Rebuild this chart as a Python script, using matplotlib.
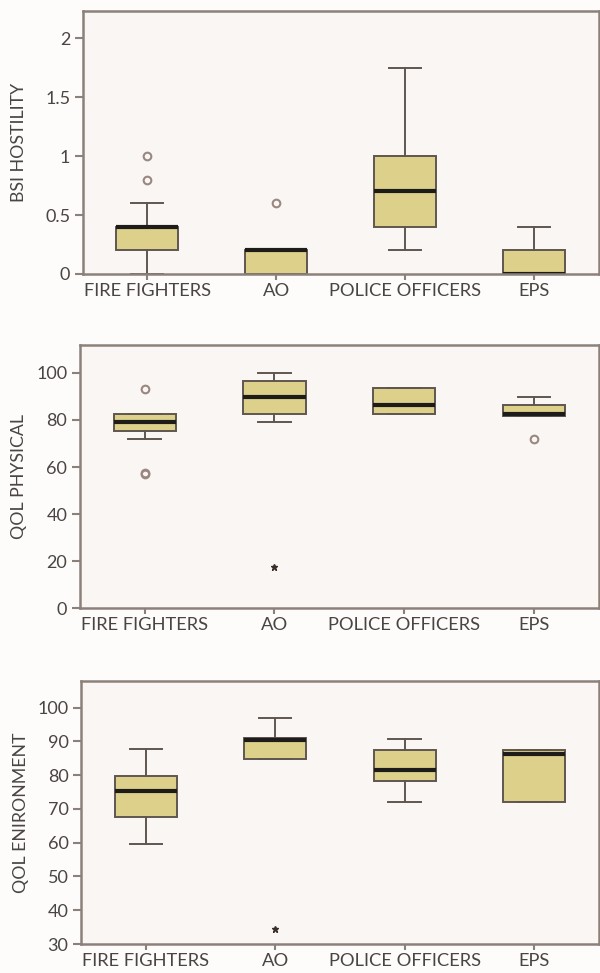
import matplotlib
matplotlib.use("Agg")
import matplotlib.pyplot as plt

groups = ["FIRE FIGHTERS", "AO", "POLICE OFFICERS", "EPS"]

# BSI hostility: quartiles, medians, whisker ends, outliers
hos_q1 = [0.2, 0.0, 0.4, 0.0]
hos_med = [0.4, 0.2, 0.7, 0.0]
hos_q3 = [0.4, 0.2, 1.0, 0.2]
hos_lo = [0.0, 0.0, 0.2, 0.0]
hos_hi = [0.6, 0.2, 1.75, 0.4]
hos_out = [[1.0, 0.8], [0.6], [], []]
hos_ext = [[], [], [], []]

# QOL physical
phy_q1 = [75.3, 82.3, 82.3, 81.8]
phy_med = [79.0, 89.6, 86.3, 82.4]
phy_q3 = [82.3, 96.6, 93.4, 86.2]
phy_lo = [71.9, 79.0, 82.3, 81.8]
phy_hi = [82.3, 100.0, 93.4, 89.6]
phy_out = [[93.2, 57.3, 57.0], [], [], [71.7]]
phy_ext = [[], [17.7], [], []]

# QOL environment
env_q1 = [67.7, 84.7, 78.4, 72.2]
env_med = [75.2, 90.5, 81.5, 86.2]
env_q3 = [79.9, 90.9, 87.5, 87.5]
env_lo = [59.5, 84.7, 72.2, 72.2]
env_hi = [87.7, 96.9, 90.6, 87.5]
env_out = [[], [], [], []]
env_ext = [[], [34.5], [], []]

FILL = "#ddd08a"
EDGE = "#5f5650"
SPINE = "#8c817a"
TEXT = "#4a4542"
AXBG = "#faf6f3"

plt.rcParams["font.family"] = ["Lato", "DejaVu Sans"]

fig = plt.figure(figsize=(6.0, 9.73), dpi=100, facecolor="#fdfcfb")


def panel(rect, q1, med, q3, lo, hi, outs, exts, ylim, yticks, yticklabels, ylabel, label_x):
    ax = fig.add_axes(rect, facecolor=AXBG)
    stats = []
    for i in range(len(groups)):
        stats.append(dict(q1=q1[i], med=med[i], q3=q3[i], whislo=lo[i], whishi=hi[i],
                          fliers=outs[i], label=groups[i]))
    ax.bxp(stats, positions=range(len(groups)), widths=0.48, patch_artist=True,
           showfliers=True,
           boxprops=dict(facecolor=FILL, edgecolor=EDGE, linewidth=1.4),
           medianprops=dict(color="#1e1c1a", linewidth=3.0),
           whiskerprops=dict(color=EDGE, linewidth=1.4),
           capprops=dict(color=EDGE, linewidth=1.4),
           capwidths=0.25,
           flierprops=dict(marker="o", markersize=5.5, markerfacecolor="none",
                           markeredgecolor="#9a8880", markeredgewidth=1.5))
    for i, vals in enumerate(exts):
        for v in vals:
            ax.plot([i], [v], marker="*", markersize=5, color="#3a2e2a", linestyle="none")
    ax.set_xlim(-0.5, 3.5)
    ax.set_ylim(*ylim)
    ax.set_yticks(yticks)
    ax.set_yticklabels(yticklabels)
    ax.set_xticks(range(len(groups)))
    ax.set_xticklabels(groups)
    for s in ax.spines.values():
        s.set_color(SPINE)
        s.set_linewidth(1.8)
    ax.tick_params(axis="y", direction="out", length=6, width=1.5, color=SPINE,
                   labelsize=13, labelcolor=TEXT, pad=3)
    ax.tick_params(axis="x", direction="out", length=4.5, width=1.5, color=SPINE,
                   labelsize=13.2, labelcolor=TEXT, pad=2)
    ax.set_ylabel(ylabel, fontsize=12.8, color=TEXT)
    ax.yaxis.set_label_coords(label_x, 0.5)
    return ax


panel([0.138, 0.7184, 0.860, 0.2703], hos_q1, hos_med, hos_q3, hos_lo, hos_hi,
      hos_out, hos_ext, (0, 2.23), [0, 0.5, 1, 1.5, 2], ["0", "0.5", "1", "1.5", "2"],
      "BSI HOSTILITY", -0.108)
panel([0.133, 0.3748, 0.865, 0.2706], phy_q1, phy_med, phy_q3, phy_lo, phy_hi,
      phy_out, phy_ext, (0, 111.8), [0, 20, 40, 60, 80, 100],
      ["0", "20", "40", "60", "80", "100"], "QOL PHYSICAL", -0.101)
panel([0.135, 0.0298, 0.863, 0.2706], env_q1, env_med, env_q3, env_lo, env_hi,
      env_out, env_ext, (30, 108), [30, 40, 50, 60, 70, 80, 90, 100],
      ["30", "40", "50", "60", "70", "80", "90", "100"], "QOL ENIRONMENT", -0.101)

fig.savefig("out.png", dpi=100, facecolor=fig.get_facecolor())
